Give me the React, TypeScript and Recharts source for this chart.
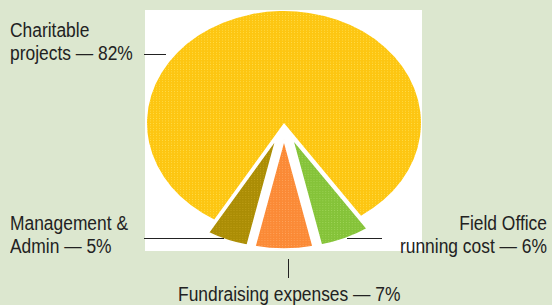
import React from 'react';
import { PieChart, Pie, Cell } from 'recharts';

// shares of spending, in the order they run round the pie (counter-clockwise from lower left)
const categories = ['Management & Admin', 'Fundraising expenses', 'Field Office running cost', 'Charitable projects'];
const shares = [5, 7, 6, 82];
const colors = ['#ab8d05', '#fb8a36', '#85c339', '#fdc612'];
const dotColors = ['#c3a21a', '#ffa55e', '#a0d65a', '#ffdc48'];

const labelLines = [
  ['Charitable', 'projects — 82%'],
  ['Management &', 'Admin — 5%'],
  ['Field Office', 'running cost — 6%'],
  ['Fundraising expenses — 7%'],
];

const W = 552;
const H = 305;
const CX = 284;
const CY = 123;
const R = 137;
const SQUASH = 0.8175; // pie is drawn as an ellipse
const EXPLODE = 20;
const SMALL_SCALE = 0.98;

const data = categories.map((name, i) => ({ name, value: shares[i] }));
const total = shares.reduce((a, b) => a + b, 0);
// orange slice centred on the bottom
const startAngle = 270 - ((shares[0] + shares[1] / 2) / total) * 360;

function sliceTransform(i: number) {
  const before = shares.slice(0, i).reduce((a, b) => a + b, 0);
  const mid = startAngle + ((before + shares[i] / 2) / total) * 360;
  const big = shares[i] > 50;
  const e = big ? 0 : EXPLODE;
  const s = big ? 1 : SMALL_SCALE;
  const rad = (mid * Math.PI) / 180;
  const ex = e * Math.cos(rad);
  const ey = -e * Math.sin(rad);
  return `translate(${CX} ${CY}) scale(1 ${SQUASH}) translate(${ex} ${ey}) scale(${s}) translate(${-CX} ${-CY})`;
}

// condensed look: Liberation Sans squeezed horizontally
const textStyle: React.CSSProperties = {
  position: 'absolute',
  fontFamily: "'Liberation Sans', Arial, sans-serif",
  fontSize: 20,
  lineHeight: '23px',
  color: '#222',
  whiteSpace: 'nowrap',
  transform: 'scaleX(0.87)',
  transformOrigin: 'left top',
};
const line = (left: number, top: number, width: number, height: number): React.CSSProperties => ({
  position: 'absolute', left, top, width, height, background: '#222',
});

export default function App() {
  return (
    <div style={{ position: 'relative', width: W, height: H, background: '#dce7cf', overflow: 'hidden' }}>
      <style>{'body{margin:0}'}</style>
      <div style={{ position: 'absolute', left: 145, top: 10, width: 277, height: 241, background: '#fff' }} />
      <div style={{ position: 'absolute', left: 0, top: 0 }}>
        <PieChart width={W} height={H} margin={{ top: 0, right: 0, bottom: 0, left: 0 }}>
          <defs>
            {colors.map((c, i) => (
              <pattern key={i} id={`dots${i}`} width={3} height={3} patternUnits="userSpaceOnUse">
                <rect width={3} height={3} fill={c} />
                <rect width={1} height={1} fill={dotColors[i]} />
              </pattern>
            ))}
          </defs>
          <Pie
            data={data}
            dataKey="value"
            nameKey="name"
            cx={CX}
            cy={CY}
            outerRadius={R}
            startAngle={startAngle}
            endAngle={startAngle + 360}
            isAnimationActive={false}
            labelLine={false}
          >
            {data.map((d, i) => (
              <Cell
                key={d.name}
                fill={`url(#dots${i})`}
                stroke={shares[i] > 50 ? 'none' : '#fff'}
                strokeWidth={2}
                transform={sliceTransform(i)}
              />
            ))}
          </Pie>
        </PieChart>
      </div>

      <div style={{ ...textStyle, left: 10, top: 18.5 }}>
        {labelLines[0][0]}<br />{labelLines[0][1]}
      </div>
      <div style={line(144, 54, 22, 1)} />

      <div style={{ ...textStyle, left: 10, top: 211.5 }}>
        {labelLines[1][0]}<br />{labelLines[1][1]}
      </div>
      <div style={line(144, 238, 80, 1)} />

      <div style={{ ...textStyle, right: 5, top: 211.5, textAlign: 'right', transformOrigin: 'right top' }}>
        {labelLines[2][0]}<br />{labelLines[2][1]}
      </div>
      <div style={line(347, 238, 35, 1)} />

      <div style={{ ...textStyle, left: 178, top: 283 }}>{labelLines[3][0]}</div>
      <div style={line(288, 259, 1, 19)} />
    </div>
  );
}
